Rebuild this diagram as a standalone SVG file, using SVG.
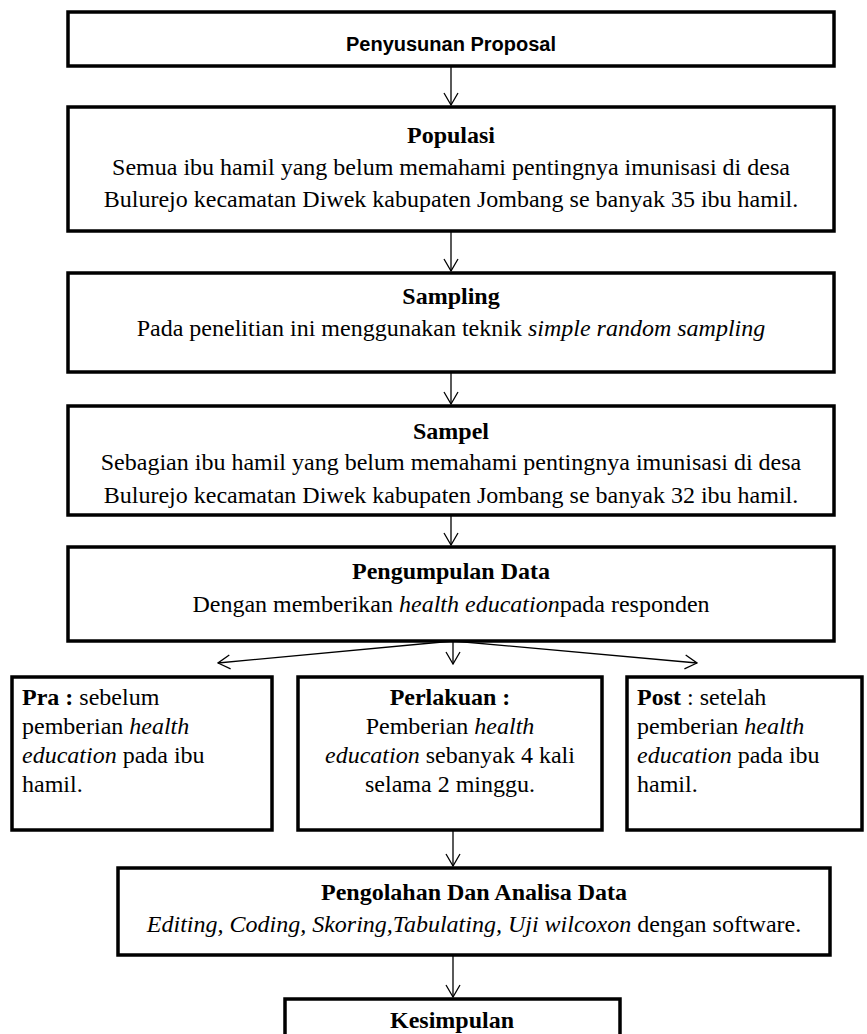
<svg xmlns="http://www.w3.org/2000/svg" width="867" height="1034" viewBox="0 0 867 1034">
<style>
.box{fill:#fff;stroke:#000;stroke-width:3.5}
.con{stroke:#000;stroke-width:1.3;fill:none}
.t{font-family:"Liberation Serif","Times New Roman",serif;font-size:24px;fill:#000}
.c{text-anchor:middle}
.b{font-weight:bold}
.i{font-style:italic}
.cal{font-family:"Liberation Sans",Arial,sans-serif;font-size:20px;font-weight:bold;fill:#000;text-anchor:middle}
</style>
<defs>
<marker id="ah" markerUnits="userSpaceOnUse" markerWidth="14" markerHeight="16" viewBox="0 0 14 16" refX="13" refY="8" orient="auto">
<path d="M1,1 L13,8 L1,15" fill="none" stroke="#000" stroke-width="1.3"/>
</marker>
</defs>
<rect width="867" height="1034" fill="#fff"/>
<g id="connectors">
<line class="con" x1="451" y1="66" x2="451" y2="105" marker-end="url(#ah)"/>
<line class="con" x1="451" y1="231" x2="451" y2="271" marker-end="url(#ah)"/>
<line class="con" x1="451" y1="372" x2="451" y2="404" marker-end="url(#ah)"/>
<line class="con" x1="451" y1="515" x2="451" y2="545" marker-end="url(#ah)"/>
<line class="con" x1="453" y1="641" x2="218" y2="663" marker-end="url(#ah)"/>
<line class="con" x1="453" y1="641" x2="453" y2="664" marker-end="url(#ah)"/>
<line class="con" x1="453" y1="641" x2="697" y2="663" marker-end="url(#ah)"/>
<line class="con" x1="453" y1="830" x2="453" y2="866" marker-end="url(#ah)"/>
<line class="con" x1="453" y1="955" x2="453" y2="997" marker-end="url(#ah)"/>
</g>
<g id="proposal">
<rect class="box" x="68" y="12" width="766" height="54"/>
<text class="cal" x="451" y="51">Penyusunan Proposal</text>
</g>
<g id="populasi">
<rect class="box" x="68" y="107" width="766" height="124"/>
<text class="t c b" x="451" y="143">Populasi</text>
<text class="t c" x="451" y="175">Semua ibu hamil yang belum memahami pentingnya imunisasi di desa</text>
<text class="t c" x="451" y="207">Bulurejo kecamatan Diwek kabupaten Jombang se banyak 35 ibu hamil.</text>
</g>
<g id="sampling">
<rect class="box" x="68" y="273" width="766" height="99"/>
<text class="t c b" x="451" y="304">Sampling</text>
<text class="t c" x="451" y="336">Pada penelitian ini menggunakan teknik <tspan class="i">simple random sampling</tspan></text>
</g>
<g id="sampel">
<rect class="box" x="68" y="406" width="766" height="109"/>
<text class="t c b" x="451" y="439">Sampel</text>
<text class="t c" x="451" y="470">Sebagian ibu hamil yang belum memahami pentingnya imunisasi di desa</text>
<text class="t c" x="451" y="503">Bulurejo kecamatan Diwek kabupaten Jombang se banyak 32 ibu hamil.</text>
</g>
<g id="pengumpulan">
<rect class="box" x="68" y="547" width="766" height="94"/>
<text class="t c b" x="451" y="579">Pengumpulan Data</text>
<text class="t c" x="451" y="612">Dengan memberikan <tspan class="i">health education</tspan>pada responden</text>
</g>
<g id="pra">
<rect class="box" x="12" y="677" width="260" height="153"/>
<text class="t" x="22" y="705"><tspan class="b">Pra :</tspan> sebelum</text>
<text class="t" x="22" y="734">pemberian <tspan class="i">health</tspan></text>
<text class="t" x="22" y="763"><tspan class="i">education</tspan> pada ibu</text>
<text class="t" x="22" y="792">hamil.</text>
</g>
<g id="perlakuan">
<rect class="box" x="298" y="677" width="304" height="153"/>
<text class="t c b" x="450" y="705">Perlakuan :</text>
<text class="t c" x="450" y="734">Pemberian <tspan class="i">health</tspan></text>
<text class="t c" x="450" y="763"><tspan class="i">education</tspan> sebanyak 4 kali</text>
<text class="t c" x="450" y="792">selama 2 minggu.</text>
</g>
<g id="post">
<rect class="box" x="627" y="677" width="235" height="153"/>
<text class="t" x="637" y="705"><tspan class="b">Post</tspan> : setelah</text>
<text class="t" x="637" y="734">pemberian <tspan class="i">health</tspan></text>
<text class="t" x="637" y="763"><tspan class="i">education</tspan> pada ibu</text>
<text class="t" x="637" y="792">hamil.</text>
</g>
<g id="pengolahan">
<rect class="box" x="118" y="868" width="712" height="87"/>
<text class="t c b" x="474" y="900">Pengolahan Dan Analisa Data</text>
<text class="t c" x="474" y="932"><tspan class="i">Editing, Coding, Skoring,Tabulating, Uji wilcoxon</tspan> dengan software.</text>
</g>
<g id="kesimpulan">
<rect class="box" x="285" y="999" width="335" height="60"/>
<text class="t c b" x="452" y="1028">Kesimpulan</text>
</g>
</svg>
